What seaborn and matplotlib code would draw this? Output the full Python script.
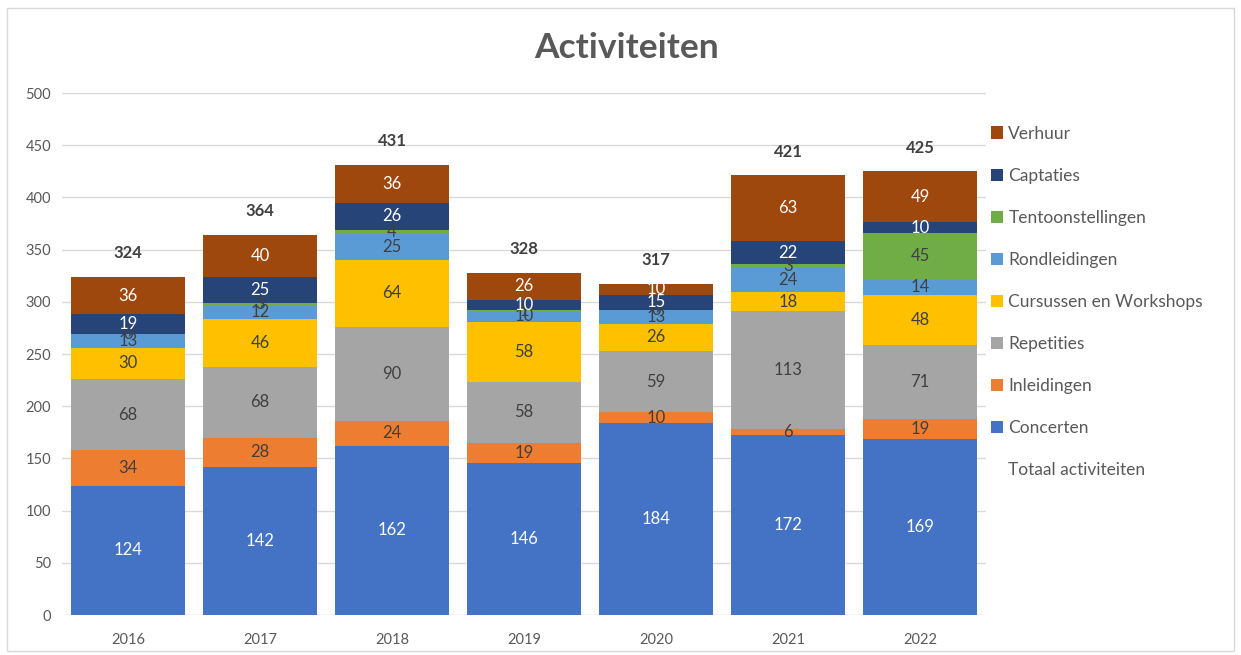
import pandas as pd
import seaborn as sns
import matplotlib
matplotlib.use('Agg')
import matplotlib.pyplot as plt
from matplotlib.patches import Patch, Rectangle

# data
years = ['2016', '2017', '2018', '2019', '2020', '2021', '2022']
concerten = [124, 142, 162, 146, 184, 172, 169]
inleidingen = [34, 28, 24, 19, 10, 6, 19]
repetities = [68, 68, 90, 58, 59, 113, 71]
cursussen = [30, 46, 64, 58, 26, 18, 48]
rondleidingen = [13, 12, 25, 10, 13, 24, 14]
tentoonstellingen = [0, 3, 4, 1, 0, 3, 45]
captaties = [19, 25, 26, 10, 15, 22, 10]
verhuur = [36, 40, 36, 26, 10, 63, 49]
totaal = [324, 364, 431, 328, 317, 421, 425]

series = {
    'Concerten': concerten,
    'Inleidingen': inleidingen,
    'Repetities': repetities,
    'Cursussen en Workshops': cursussen,
    'Rondleidingen': rondleidingen,
    'Tentoonstellingen': tentoonstellingen,
    'Captaties': captaties,
    'Verhuur': verhuur,
}
colors = {
    'Concerten': '#4472C4',
    'Inleidingen': '#ED7D31',
    'Repetities': '#A5A5A5',
    'Cursussen en Workshops': '#FFC000',
    'Rondleidingen': '#5B9BD5',
    'Tentoonstellingen': '#70AD47',
    'Captaties': '#264478',
    'Verhuur': '#9E480E',
}
label_colors = {
    'Concerten': 'white',
    'Inleidingen': '#404040',
    'Repetities': '#404040',
    'Cursussen en Workshops': '#404040',
    'Rondleidingen': '#404040',
    'Tentoonstellingen': '#404040',
    'Captaties': 'white',
    'Verhuur': 'white',
}

rows = []
for name, vals in series.items():
    for y, v in zip(years, vals):
        rows.append({'jaar': y, 'activiteit': name, 'aantal': v})
df = pd.DataFrame(rows)

sns.set_style('white')
plt.rcParams['font.family'] = ['Lato', 'DejaVu Sans']

fig = plt.figure(figsize=(12.41, 6.55), dpi=100)
ax = fig.add_axes([0.050, 0.061, 0.7445, 0.797])

# seaborn stacks the first hue level on top, so pass them top-down
order = list(series.keys())[::-1]
sns.histplot(data=df, x='jaar', weights='aantal', hue='activiteit',
             hue_order=order, multiple='stack', discrete=True, shrink=0.87,
             palette=colors, alpha=1, edgecolor='none', linewidth=0,
             legend=False, ax=ax)

# segment labels
bottoms = [0] * len(years)
for name, vals in series.items():
    for i, v in enumerate(vals):
        ax.text(i, bottoms[i] + v / 2, str(v), ha='center', va='center',
                fontsize=12, color=label_colors[name])
        bottoms[i] += v

# totals
for i, t in enumerate(totaal):
    ax.annotate(str(t), (i, t), xytext=(0, 17), textcoords='offset points',
                ha='center', va='center', fontsize=12, fontweight='bold',
                color='#404040')

ax.set_xlim(-0.5, 6.5)
ax.set_ylim(0, 500)
ax.set_yticks(range(0, 501, 50))
ax.yaxis.grid(True, color='#D9D9D9', linewidth=1)
ax.set_axisbelow(True)
for s in ax.spines.values():
    s.set_visible(False)
ax.tick_params(axis='both', length=0, labelsize=10.5, colors='#595959', pad=8)
ax.tick_params(axis='x', pad=13)
ax.set_xlabel('')
ax.set_ylabel('')

fig.text(0.505, 0.927, 'Activiteiten', ha='center', va='center',
         fontsize=25.5, fontweight='bold', color='#595959')

handles = [Patch(facecolor=colors[n], edgecolor='none') for n in order]
labels = list(order)
handles.append(Patch(facecolor='none', edgecolor='none'))
labels.append('Totaal activiteiten')
leg = fig.legend(handles, labels, loc='upper left',
                 bbox_to_anchor=(0.786, 1 - 110 / 655), frameon=False,
                 fontsize=12.5, labelspacing=1.5, handlelength=0.7,
                 handleheight=0.7, handletextpad=0.3)
for t in leg.get_texts():
    t.set_color('#595959')

fig.patches.append(Rectangle((0.006, 0.006), 0.988, 0.982, transform=fig.transFigure,
                             fill=False, edgecolor='#D9D9D9', linewidth=1))

fig.savefig('out.png', dpi=100)
